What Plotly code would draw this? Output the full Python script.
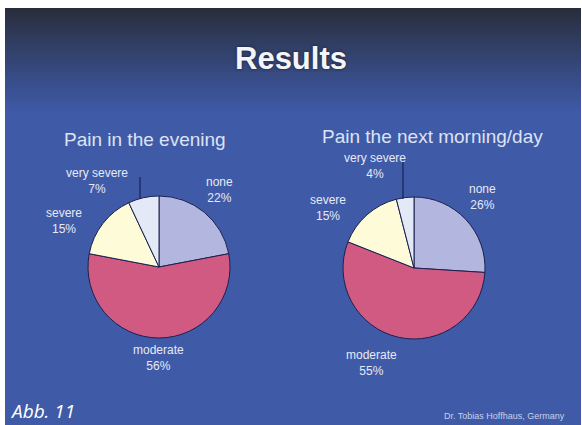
import plotly.graph_objects as go

# ---- data ----
categories = ["none", "moderate", "severe", "very severe"]
evening_values = [22, 56, 15, 7]
morning_values = [26, 55, 15, 4]
chart_titles = ["Pain in the evening", "Pain the next morning/day"]
slice_colors = ["#b3b7df", "#d15a83", "#fdfbd8", "#e3e9f7"]

W, H = 582, 425


def px(x):
    return x / W


def py(y):
    return 1 - y / H


fig = go.Figure()

# pies
pie_domains = [
    dict(x=[px(88), px(230)], y=[py(338), py(196)]),
    dict(x=[px(343), px(485)], y=[py(339), py(197)]),
]
for vals, dom in zip([evening_values, morning_values], pie_domains):
    fig.add_trace(go.Pie(
        labels=categories, values=vals, sort=False, direction="clockwise",
        rotation=0, domain=dom, textinfo="none", hoverinfo="label+percent",
        marker=dict(colors=slice_colors, line=dict(color="#1d2050", width=1)),
        showlegend=False,
    ))

shapes = []
# white border / background slide
shapes.append(dict(type="rect", xref="paper", yref="paper", x0=px(5), x1=px(581),
                   y0=0, y1=py(8), fillcolor="#3f5ba7", line=dict(width=0), layer="below"))
# gradient bands at top
top_c = (41, 45, 57)
bot_c = (62, 89, 166)
y_start, y_end = 8, 112
n = 52
for i in range(n):
    t = i / (n - 1)
    t2 = t ** 0.9
    c = tuple(int(round(top_c[k] + (bot_c[k] - top_c[k]) * t2)) for k in range(3))
    ya = y_start + (y_end - y_start) * i / n
    yb = y_start + (y_end - y_start) * (i + 1) / n + 0.6
    shapes.append(dict(type="rect", xref="paper", yref="paper", x0=px(5), x1=px(581),
                       y0=py(yb), y1=py(ya), fillcolor="rgb(%d,%d,%d)" % c,
                       line=dict(width=0), layer="below"))
# leader lines for very severe labels
for (x, y0, y1) in [(140, 177, 199), (403, 162, 199)]:
    shapes.append(dict(type="line", xref="paper", yref="paper", x0=px(x), x1=px(x),
                       y0=py(y0), y1=py(y1), line=dict(color="#1d2050", width=1.2)))

annotations = []
annotations.append(dict(text="<b>Results</b>", x=px(291), y=py(59), xref="paper", yref="paper",
                        showarrow=False, xanchor="center", yanchor="middle",
                        font=dict(family="Liberation Sans", size=31, color="#f4f5f8",
                                  shadow="0px 0px 3px #1a1d2a")))
for t, (x, y) in zip(chart_titles, [(145, 139), (432, 137)]):
    annotations.append(dict(text=t, x=px(x), y=py(y), xref="paper", yref="paper",
                            showarrow=False, xanchor="center", yanchor="middle",
                            font=dict(family="Liberation Sans", size=19, color="#dde2f4")))

label_pos = [
    [(219, 190), (158, 358), (64, 221), (97, 181)],
    [(482, 197), (372, 363), (328, 208), (375, 166)],
]
for vals, positions in zip([evening_values, morning_values], label_pos):
    tot = sum(vals)
    for cat, v, (x, y) in zip(categories, vals, positions):
        annotations.append(dict(text=f"{cat}<br>{v / tot * 100:.0f}%", x=px(x), y=py(y),
                                xref="paper", yref="paper", showarrow=False,
                                xanchor="center", yanchor="middle", align="center",
                                font=dict(family="Liberation Sans", size=12, color="#e6e9f6")))

annotations.append(dict(text="<i>Abb. 11</i>", x=px(8), y=py(411), xref="paper", yref="paper",
                        showarrow=False, xanchor="left", yanchor="middle",
                        font=dict(family="Open Sans", size=19, color="#ffffff")))
annotations.append(dict(text="Dr. Tobias Hoffhaus, Germany", x=px(567), y=py(416), xref="paper",
                        yref="paper", showarrow=False, xanchor="right", yanchor="middle",
                        font=dict(family="Liberation Sans", size=9, color="#c8d0ec")))

fig.update_layout(
    width=W, height=H, margin=dict(l=0, r=0, t=0, b=0),
    paper_bgcolor="#ffffff", plot_bgcolor="rgba(0,0,0,0)",
    shapes=shapes, annotations=annotations,
    xaxis=dict(visible=False), yaxis=dict(visible=False),
)

fig.write_html("out.html")
